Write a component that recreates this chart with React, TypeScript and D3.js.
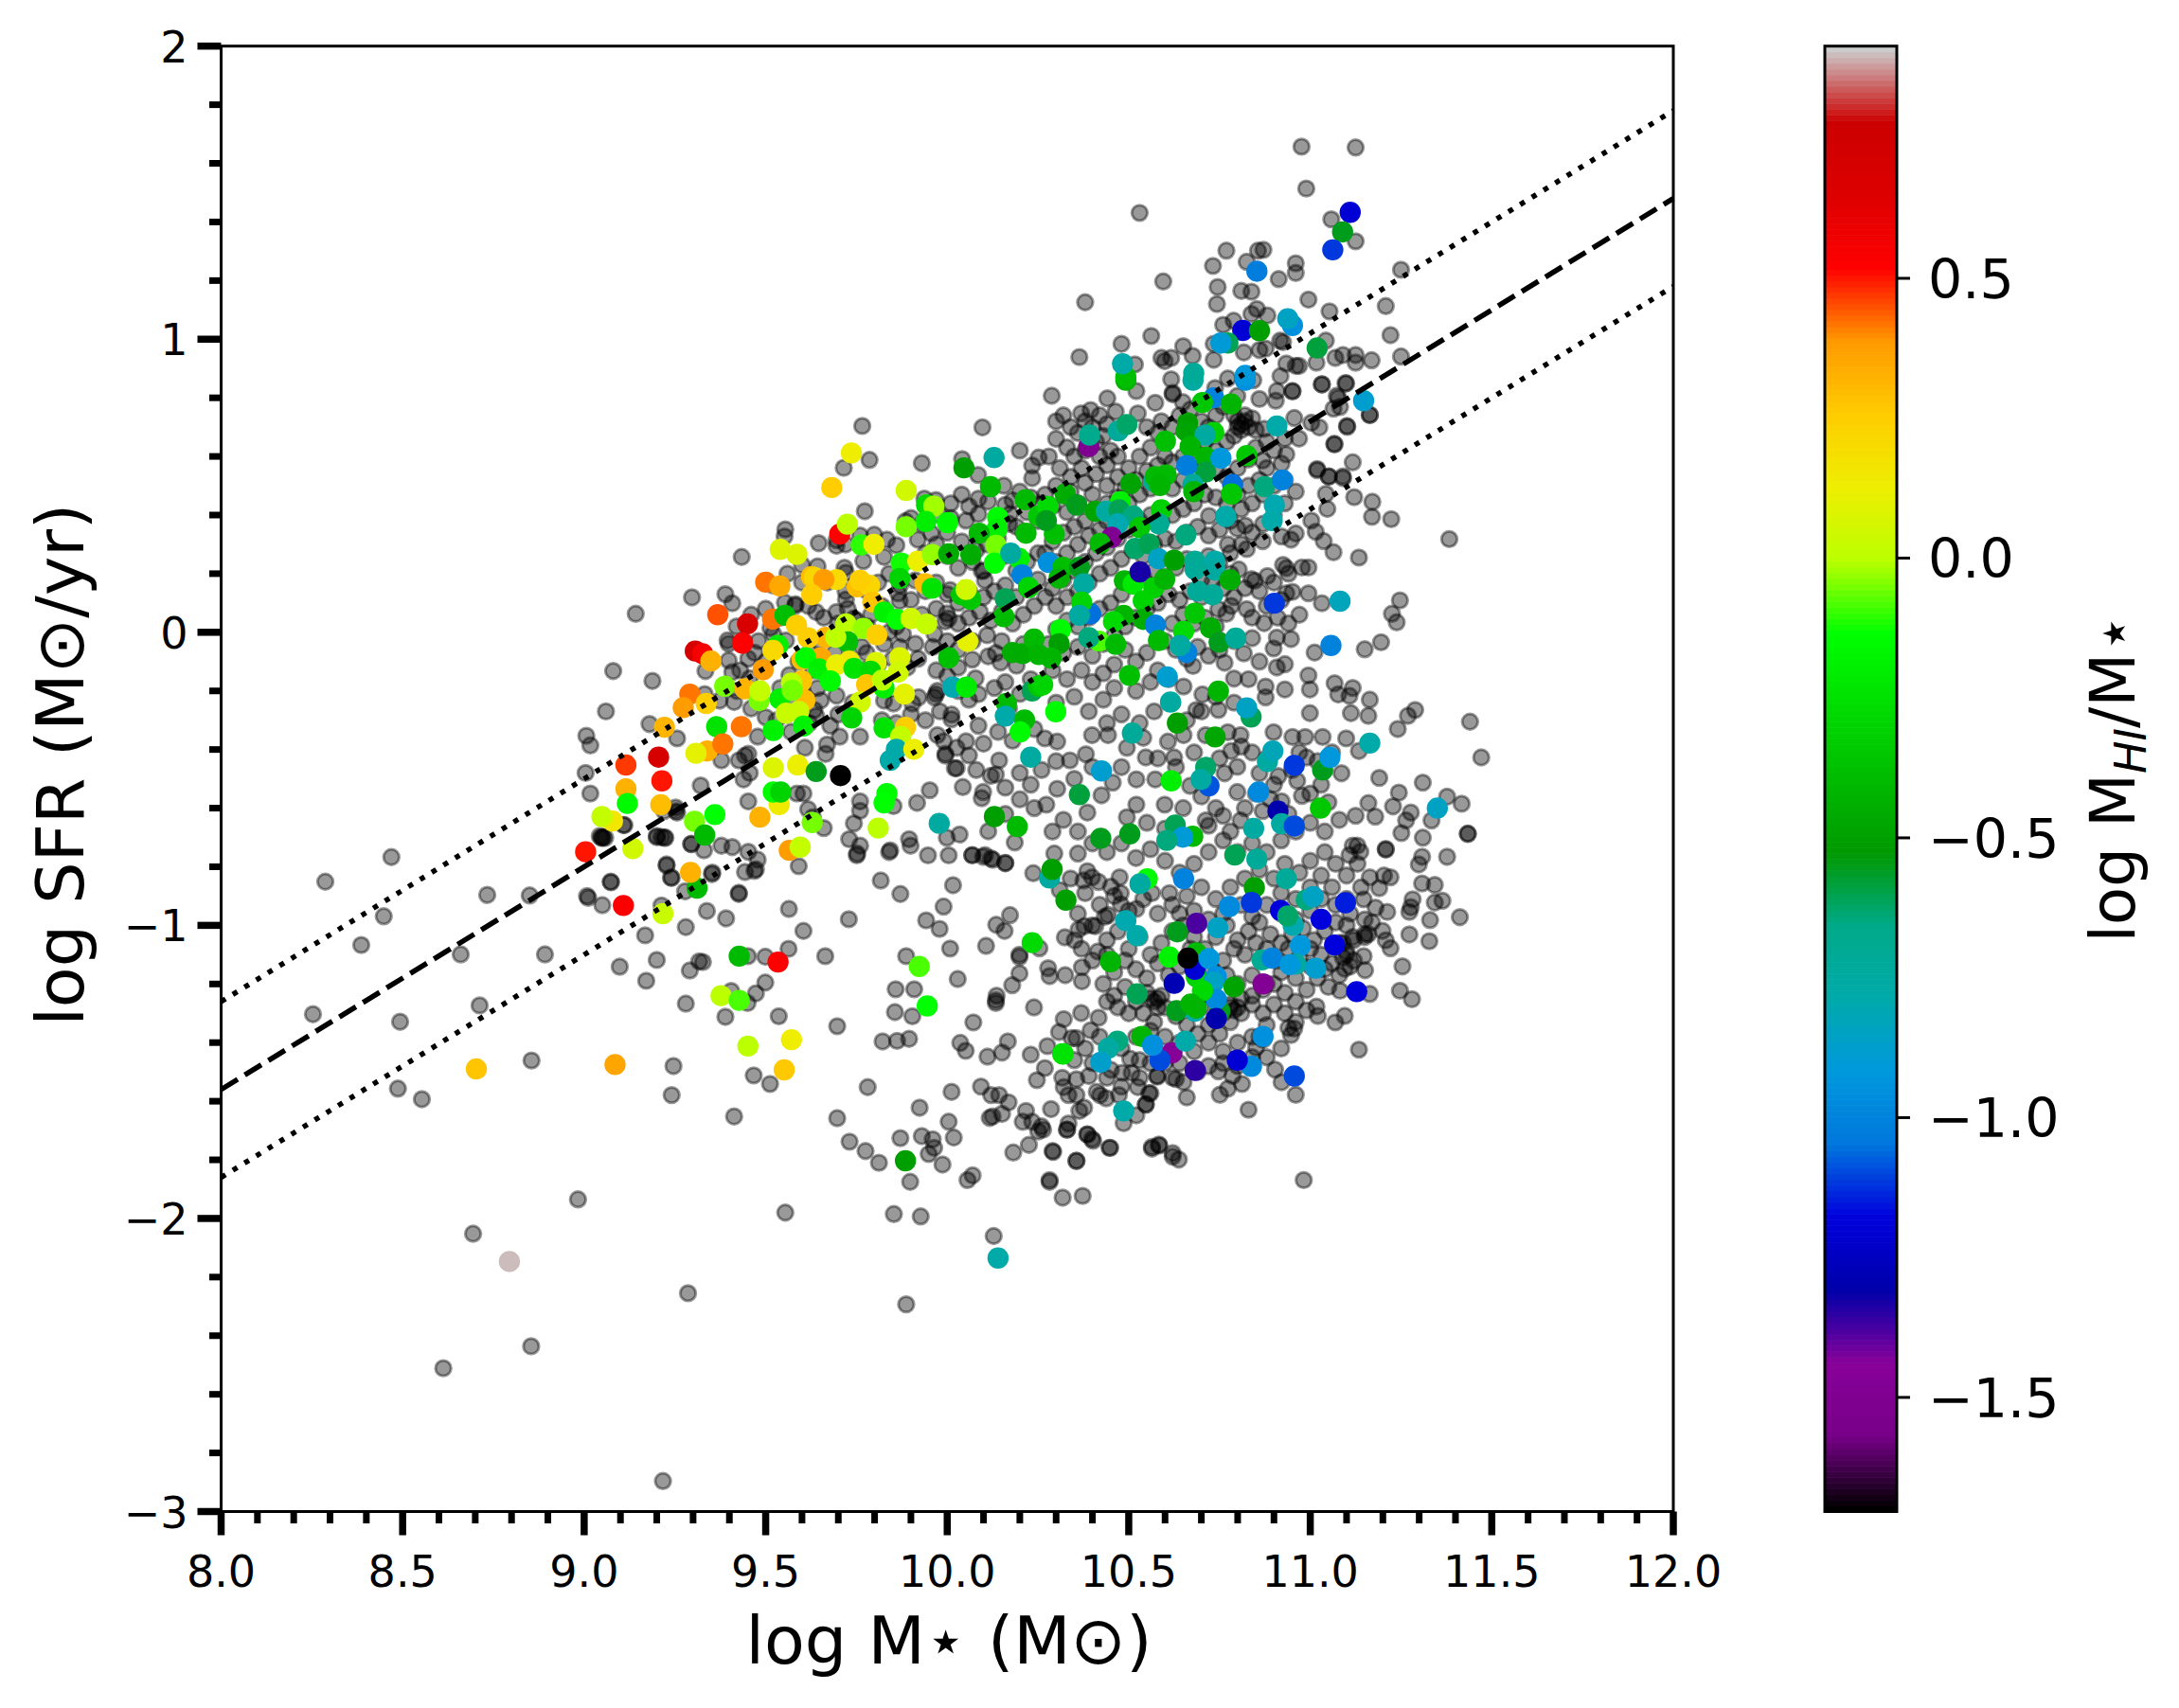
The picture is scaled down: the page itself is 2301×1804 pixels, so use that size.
import React from "react";
import * as d3 from "d3";

// ---------- axis ticks ----------
const xMajor = [8, 8.5, 9, 9.5, 10, 10.5, 11, 11.5, 12];
const xMinor = [8.1,8.2,8.3,8.4,8.6,8.7,8.8,8.9,9.1,9.2,9.3,9.4,9.6,9.7,9.8,9.9,10.1,10.2,10.3,10.4,10.6,10.7,10.8,10.9,11.1,11.2,11.3,11.4,11.6,11.7,11.8,11.9];
const yMajor = [-3, -2, -1, 0, 1, 2];
const yMinor = [-2.8,-2.6,-2.4,-2.2,-1.8,-1.6,-1.4,-1.2,-0.8,-0.6,-0.4,-0.2,0.2,0.4,0.6,0.8,1.2,1.4,1.6,1.8];
const cbTicks = [0.5, 0, -0.5, -1, -1.5];

// ---------- main sequence fit (slope, intercept, scatter) ----------
const fitSlope = 0.76;
const fitIntercept = -7.64;
const fitScatter = 0.3;

// ---------- nipy_spectral stops ----------
const cmapR = [0,.4667,.5333,0,0,0,0,0,0,0,0,0,0,.7333,.9333,1,1,1,.8667,.8,.8];
const cmapG = [0,0,0,0,0,.4667,.6,.6667,.6667,.6,.7333,.8667,1,1,.9333,.8,.6,0,0,0,.8];
const cmapB = [0,.5333,.6,.6667,.8667,.8667,.8667,.6667,.5333,0,0,0,0,0,0,0,0,0,0,0,.8];

// ---------- grey galaxies: flat mass, SFR pairs ----------
const greySparseLeft = [8.469,-.767,8.287,-.851,8.448,-.969,8.386,-1.067,8.733,-.896,8.85,-.898,8.66,-1.099,8.892,-1.099,8.253,-1.303,8.493,-1.329,8.712,-1.273,8.487,-1.557,8.553,-1.593,8.855,-1.461,9.246,-1.48,9.241,-1.579,8.983,-1.935,8.694,-2.052,9.098,-1.141,9.2,-1.118,9.171,-1.189,9.168,-1.034,9.28,-1.006,9.28,-1.267,9.291,-1.154,9.317,-1.123,9.011,-.906,9.05,-.931,9.074,-.853,9.047,-.701,9.058,-.701,9.05,-.7,9.111,-.658,9.2,-.699,9.224,-.701,9.213,-.699,9.227,-.796,9.241,-.838,9.278,-.884,9.213,-.932,9.295,-.723,9.22,-.61,9.253,-.61,9.286,-2.255,9.887,-2.293,8.612,-2.511,8.854,-2.436,9.217,-2.896,9.554,-1.98,10.128,-2.06];
const greyLower = [9.751,-.761,9.84,-.75,9.947,-.761,10.004,-.761,10.069,-.761,10.099,-.766,10.121,-.772,10.16,-.788,10.237,-.822,9.591,-.798,9.473,-.809,9.443,-.818,9.353,-.82,9.426,-.893,9.338,-.951,9.391,-.976,9.564,-.944,9.604,-1.019,9.729,-.979,9.817,-.847,9.871,-.893,10.016,-.863,9.99,-.936,9.942,-.983,9.979,-1.012,10.173,-.965,10.135,-.998,10.158,-1.019,10.008,-1.079,10.107,-1.07,10.254,-1.078,10.199,-1.1,10.199,-1.108,9.451,-1.105,9.499,-1.107,9.563,-1.08,9.664,-1.105,9.327,-1.125,9.499,-1.195,9.473,-1.232,9.405,-1.224,9.45,-1.265,9.389,-1.312,9.536,-1.31,9.697,-1.344,9.887,-1.105,10.029,-1.183,9.858,-1.218,9.909,-1.218,9.856,-1.296,9.904,-1.31,9.822,-1.396,9.862,-1.394,9.895,-1.387,9.467,-1.512,9.512,-1.541,9.413,-1.652,9.697,-1.658,9.781,-1.552,9.731,-1.738,9.775,-1.77,9.812,-1.81,9.871,-1.726,9.93,-1.719,9.96,-1.73,9.964,-1.759,9.949,-1.78,10.018,-1.724,10.004,-1.67,9.924,-1.622,10.012,-1.568,9.987,-1.816,9.898,-1.875,10.07,-1.853,10.056,-1.869,9.853,-1.985,9.927,-1.993,10.072,-1.331,10.036,-1.401,10.051,-1.428,10.111,-1.448,10.151,-1.434,10.167,-1.396,10.23,-1.441,10.276,-1.412,10.239,-1.28,10.136,-1.24,10.134,-1.265,10.134,-1.256,10.179,-1.204,10.199,-1.164,10.278,-1.146,10.282,-1.173,10.325,-1.17,10.371,-1.143,10.371,-1.191,10.415,-1.089,10.324,-1.041,10.351,-1.051,10.362,-1.014,10.378,-1.003,10.408,-1.003,10.386,-.815,10.399,-.836,10.417,-.852,10.375,-.847,10.36,-.755,10.295,-.755,10.475,-.836,10.451,-.868,10.478,-.89,10.478,-.928,10.434,-.971,10.443,-.965,10.521,-.944,10.564,-.89,10.612,-.89,10.269,-1.487,10.247,-1.528,10.093,-1.55,10.121,-1.579,10.143,-1.579,10.169,-1.604,10.117,-1.657,10.125,-1.652,10.151,-1.643,10.217,-1.633,10.208,-1.67,10.234,-1.67,10.26,-1.686,10.251,-1.703,10.286,-1.627,10.225,-1.749,10.182,-1.775,10.292,-1.773,10.356,-1.803,10.282,-1.875,10.318,-1.929,10.373,-1.923,10.33,-1.697,10.334,-1.676,10.386,-1.713,10.402,-1.735,10.449,-1.759,10.564,-1.762,10.584,-1.751,10.621,-1.789,10.317,-1.52,10.321,-1.552,10.334,-1.579,10.356,-1.525,10.356,-1.579,10.377,-1.622,10.364,-1.633,10.39,-1.514,10.412,-1.568,10.421,-1.579,10.438,-1.59,10.473,-1.579,10.525,-1.552,10.547,-1.611,10.556,-1.573,10.578,-1.514,10.621,-1.52,10.451,-1.493,10.482,-1.503,10.508,-1.503,10.53,-1.46,10.504,-1.455,10.308,-1.364,10.321,-1.32,10.343,-1.385,10.356,-1.385,10.369,-1.299,10.417,-1.315,10.395,-1.358];
const greyRight = [11.383,.318,11.223,.386,11.171,.445,11.17,.394,11.134,.255,11.064,.273,11.037,.311,11.015,.343,11.003,.381,11.121,.461,11.047,.421,11.043,.472,11.09,.526,11.117,.58,11.019,.553,11.051,.531,11.164,.741,11.102,.701,11.067,.641,11.077,.8,11.099,.849,11.032,.846,10.951,.822,11.247,.109,11.225,.063,11.238,.034,11.195,-.034,11.15,-.058,11.012,-.069,10.995,-.147,10.999,-.195,11.067,-.174,11.077,-.212,11.108,-.217,11.117,-.19,11.164,-.23,11.16,-.285,11.112,-.276,10.999,-.276,11.289,-.265,11.269,-.285,11.241,-.33,11.44,-.305,11.471,-.427,11.032,.099,10.995,.133,10.951,.138,10.934,.133,10.995,.221,10.977,.221,10.934,.219,10.925,.23,10.882,.192,10.847,.176,10.803,.214,10.838,.181,10.825,.284,10.869,.311,10.921,.327,10.947,.316,10.96,.337,10.773,.3,10.799,.354,10.821,.364,10.721,.397,10.947,-.023,10.908,-.018,10.899,-.055,10.817,-.072,10.873,.031,10.825,.079,10.782,.09,10.747,.079,10.769,.063,10.877,-.185,10.908,-.12,10.93,-.195,10.877,-.222,10.93,-.109,10.899,-.341,10.79,-.158,10.764,-.104,10.677,-.115,10.651,-.185,10.703,-.212,10.951,-.357,10.986,-.357,11.034,-.357,11.099,-.362,11.134,-.405,11.086,-.481,11.19,-.497,11.31,-.513,11.244,-.547,11.228,-.594,11.16,-.583,11.179,-.629,11.125,-.626,11.277,-.615,11.264,-.642,11.334,-.642,11.417,-.585,11.377,-.561,11.434,-.687,11.31,-.701,11.251,-.685,11.208,-.739,11.13,-.728,10.99,-.427,10.912,-.491,10.964,-.507,10.977,-.558,10.86,-.481,10.799,-.545,10.76,-.626,10.712,-.642,10.808,-.642,10.869,-.61,10.921,-.577,10.651,-.351,10.747,-.265,10.686,-.265,10.808,-.351,10.782,-.405,10.773,-.341,10.712,-.351,10.608,-.373,10.547,-.427,10.521,-.502,10.495,-.394,10.443,-.351,10.399,-.351,10.338,-.437,10.382,-.416,10.303,-.373,10.269,-.362,10.303,-.534,10.273,-.588,10.386,-.615,10.456,-.513,10.521,-.588,10.599,-.588,10.495,-.631,10.425,-.556,10.625,-.427,10.573,-.502,10.669,-.524,10.764,-.481,10.799,-.459];
const greyUpper = [10.976,1.657,11.125,1.654,10.989,1.514,11.058,1.409,11.125,1.334,10.53,1.431,10.769,1.302,10.856,1.302,10.871,1.305,10.825,1.264,10.732,1.25,10.96,1.259,10.96,1.226,10.913,1.205,10.595,1.197,10.745,1.178,10.81,1.165,10.838,1.162,10.38,1.126,10.743,1.12,10.995,1.135,11.25,1.237,11.208,1.113,11.053,1.095,10.853,1.103,10.838,1.086,10.882,1.081,10.789,1.063,10.76,1.049,11.221,1.014,10.562,1.011,10.48,.984,10.364,.939,10.65,.976,10.676,.943,10.59,.936,10.599,.925,10.617,.936,10.734,.984,10.734,.93,10.817,.955,10.86,.963,10.877,.968,10.917,.995,10.925,.99,10.934,.917,10.96,.909,10.969,.909,11.017,.92,11.043,.995,11.069,.936,11.09,.946,11.125,.946,11.125,.92,11.169,.928,11.25,.941,10.517,.914,10.521,.823,10.617,.863,10.621,.817,10.621,.812,10.773,.866,10.843,.86,10.918,.874,10.951,.823,10.908,.823,10.905,.79,11.032,.846,11.097,.85,11.073,.807,11.064,.763,11.082,.769,11.164,.742,11.101,.704,11.066,.643,11.003,.715,11.025,.699,10.956,.731,10.86,.796,10.799,.806,10.441,.798,10.288,.807,10.573,.783,10.649,.785,10.464,.753,10.525,.747,10.369,.747,10.395,.758,10.738,.833,11.019,.557,11.051,.532,11.09,.532,10.93,.661,10.934,.607,10.969,.661,10.869,.586,10.873,.694,10.921,.575];
const greyLeftMid = [9.766,.704,10.097,.699,9.786,.588,9.715,.561,9.93,.577,10.085,.537,10.2,.62,10.041,.591,10.234,.569,10.234,.526,10.252,.596,9.773,.413,9.937,.456,9.969,.451,9.554,.351,9.552,.327,9.434,.257,9.646,.304,9.695,.295,9.695,.314,9.799,.333,9.834,.316,9.86,.297,9.826,.257,9.769,.243,9.919,.316,9.885,.379,9.956,.338,10.086,.456,10.113,.446,10.156,.5,10.16,.435,10.173,.403,10.191,.36,10.086,.403,10.052,.381,9.643,.225,9.717,.22,9.721,.203,9.297,.119,9.389,.13,9.408,.099,9.142,.063,9.553,.101,9.582,.096,9.617,.09,9.639,.069,9.721,.112,9.726,.08,9.695,.069,9.743,.047,9.869,.107,9.865,.133,9.912,.177,10.008,.144,10.104,.177,10.095,.209,9.999,.064,10.004,.047,9.995,.037,9.08,-.132,9.188,-.166,9.06,-.27,9.18,-.313,9.006,-.353,9.017,-.386,9.256,-.362,9.332,-.211,9.373,-.233,9.413,-.238,9.395,-.028,9.398,-.039,9.398,-.096,9.452,-.09,9.334,-.132,9.408,-.136,9.43,-.13,9.456,-.157,9.521,-.006,9.556,-.028,9.582,.091,9.513,.015,9.565,-.146,9.643,-.19,9.695,-.216,9.634,-.265,9.639,-.286,9.652,-.232,9.778,-.071,9.765,-.05,9.826,-.039,9.878,-.006,9.912,-.039,9.869,-.05,9.965,-.006,9.969,-.211,9.965,-.222,9.973,-.2,9.921,-.222,9.826,-.233,9.852,-.243,9.904,-.243,10.069,-.093,10.113,-.082,10.134,-.071,10.147,-.103,10.078,-.157,10.191,-.114,10.13,-.19,10.086,-.211,10.012,-.281,10.012,-.297,10.086,-.319,10.052,-.372,10.026,-.394,9.973,-.351,9.995,-.415,10.021,-.464,9.952,-.539,9.917,-.582,10.043,-.528,10.099,-.545,10.095,-.566,10.143,-.437,10.134,-.485,9.991,-.372,9.678,-.319,9.704,-.356,9.76,-.356,9.669,-.383,9.665,-.415,9.608,-.394,9.478,-.356,9.452,-.415,9.426,-.437,9.443,-.421,9.456,-.48,9.439,-.502,9.321,-.523,9.378,-.437,9.017,-.55,9.004,-.48,9.108,-.658,9.252,-.598,9.256,-.615,9.452,-.577,9.604,-.55,9.586,-.55,9.617,-.604,9.63,-.631,9.66,-.668,9.73,-.706,9.743,-.652,9.76,-.577,9.76,-.609,9.76,-.728,9.752,-.755,9.852,-.593,9.843,-.744,9.895,-.706,9.899,-.728,9.999,-.701,10.034,-.69,9.995,-.421,10.026,-.464,10.113,-.679,10.186,-.717,10.069,-.76,10.104,-.76,10.126,-.776,10.16,-.787,9.478,-.776,9.469,-.814,9.408,-.733,9.378,-.728,9.33,-.744,9.295,-.722,9.221,-.701,9.2,-.695,9.052,-.701,9.043,-.695,9.227,-.792,9.239,-.837,9.352,-.825,9.073,-.851,9.008,-.9,9.426,-.889,9.452,-.749];
const greyLowerRight = [11.434,-.688,11.377,-.766,11.412,-.972,11.33,-.982,11.328,-1.054,11.273,-1.031,11.254,-1.14,11.247,-1.223,11.28,-1.252,11.134,-1.424,11.164,-1.234,11.208,-.742,11.117,-.728,11.138,-.749,11.108,-.76,11.308,-.766,11.299,-.792,11.308,-.857,11.343,-.862,11.282,-.911,11.273,-.954,11.343,-.922,11.364,-.916,11.277,-.938,11.212,-.954,11.221,-.836,11.203,-.83,11.164,-.836,11.19,-.873,11.199,-1.019,11.221,-1.078,11.208,-1.051,11.147,-.911,11.117,-1.04,11.147,-1.105,11.151,-1.153,11.095,-1.148,11.082,-1.223,11.095,-1.309,11.069,-1.331,11.021,-1.309,10.947,-1.374,10.956,-1.352,11.017,-1.277,10.903,-1.492,10.921,-1.535,10.96,-1.578,10.83,-1.629,10.812,-1.541,10.773,-1.557,10.751,-1.578,10.66,-1.587,10.63,-1.524,10.651,-1.535,10.747,-1.498,10.579,-1.516,10.56,-1.573,10.547,-1.611,10.521,-1.648,10.486,-1.675,10.447,-1.759,10.399,-1.729,10.386,-1.713,10.356,-1.804,10.29,-1.77,10.564,-1.756,10.583,-1.748,10.621,-1.777,10.638,-1.799,10.33,-1.697,10.264,-1.697,10.282,-1.869,10.982,-1.869,10.786,-1.514,10.851,-1.417];
// hand-read clumps of the crowded regions
const greyCrowdUpper = [10.3,.72,10.32,.74,10.34,.7,10.3,.66,10.33,.63,10.28,.6,10.36,.68,10.38,.72,10.42,.74,10.4,.7,10.44,.71,10.43,.67,10.41,.65,10.38,.62,10.35,.6,10.31,.56,10.34,.53,10.37,.56,10.42,.6,10.45,.62,10.47,.6,10.44,.57,10.41,.54,10.38,.51,10.34,.48,10.3,.5,10.27,.47,10.29,.43,10.33,.41,10.36,.44,10.4,.47,10.44,.5,10.47,.53,10.5,.56,10.53,.6,10.56,.63,10.58,.68,10.55,.7,10.59,.72,10.62,.7,10.64,.74,10.67,.76,10.7,.72,10.72,.7,10.74,.74,10.76,.77,10.79,.74,10.8,.72,10.81,.71,10.82,.72,10.83,.7,10.81,.69,10.8,.7,10.82,.74,10.84,.73,10.85,.69,10.79,.67,10.77,.65,10.74,.62,10.71,.65,10.68,.62,10.65,.6,10.62,.58,10.6,.6,10.58,.57,10.55,.55,10.52,.52,10.49,.49,10.47,.46,10.44,.44,10.41,.41,10.38,.38,10.35,.36,10.32,.34,10.29,.31,10.27,.27,10.3,.24,10.33,.27,10.36,.3,10.39,.33,10.42,.35,10.44,.38,10.47,.41,10.5,.44,10.53,.47,10.56,.49,10.59,.51,10.62,.49,10.65,.52,10.68,.55,10.71,.57,10.74,.56,10.77,.53,10.8,.56,10.83,.59,10.85,.63,10.88,.65,10.9,.62,10.88,.56,10.86,.52,10.83,.5,10.8,.47,10.77,.44,10.74,.46,10.71,.47,10.68,.44,10.65,.42,10.62,.4,10.59,.38,10.56,.4,10.53,.38,10.5,.35,10.47,.32,10.44,.29,10.41,.27,10.38,.24,10.35,.21,10.32,.18,10.29,.15,10.27,.12,10.3,.09,10.33,.12,10.36,.14,10.39,.17,10.42,.2,10.45,.22,10.48,.25,10.51,.28,10.54,.26,10.57,.3,10.6,.32,10.63,.31,10.66,.34,10.69,.36,10.72,.33,10.75,.35,10.78,.38,10.81,.42,10.84,.44,10.87,.47,10.9,.5,10.93,.52,10.96,.48,10.93,.44,10.9,.4,10.87,.37,10.84,.34,10.81,.3,10.78,.27,10.75,.24,10.72,.26,10.69,.23,10.66,.25,10.63,.22,10.6,.19,10.57,.21,10.54,.19,10.51,.16,10.48,.13,10.45,.1,10.42,.08,10.39,.05,10.36,.02,10.33,.04,10.3,.01,10.28,-.04,10.32,-.07,10.36,-.05,10.4,-.08,10.43,-.04,10.46,-.01,10.49,.02,10.52,.05,10.55,.08,10.58,.1,10.61,.13,10.64,.11,10.67,.14,10.7,.12,10.73,.17,10.76,.15,10.79,.12,10.62,.03,10.65,.06,10.68,.03,10.71,.05,10.74,.02,10.6,-.03,10.63,-.06,10.66,-.09,10.69,-.05,10.72,-.08,10.75,-.06,10.79,-.03,10.55,-.07,10.52,-.1,10.49,-.06,10.46,-.11,10.43,-.14,10.4,-.17,10.37,-.13,10.33,-.16,10.29,-.13,10.26,-.18,10.3,-.24,10.35,-.22,10.39,-.27,10.43,-.23,10.46,-.19,10.52,-.2,10.56,-.17,10.58,-.13,10.61,-.16,10.62,-.24,10.57,-.27,10.53,-.31,10.48,-.28,10.44,-.31,10.66,-.3,10.7,-.27,10.74,-.22,10.79,-.24,10.83,-.16,10.86,-.1,10.84,-.02,10.84,.05,10.88,.09,10.91,.05,10.94,.03,10.97,.06,10.92,.11,10.94,.2,10.9,.17,10.86,.14,10.82,.15,10.78,.2,10.74,.22,10.7,.18];
const greyCrowdLeft = [10.26,.44,10.23,.46,10.2,.48,10.18,.45,10.22,.41,10.25,.38,10.21,.34,10.17,.37,10.14,.32,10.11,.3,10.08,.28,10.04,.31,10.0,.34,9.97,.3,9.94,.27,10.0,.26,10.03,.22,10.07,.24,10.1,.21,10.13,.24,10.16,.26,10.19,.21,10.22,.24,10.25,.27,10.25,.18,10.22,.15,10.19,.12,10.16,.16,10.13,.14,10.1,.12,10.06,.14,10.03,.1,10.0,.13,9.97,.17,9.94,.14,9.9,.11,9.87,.16,9.84,.2,9.81,.17,9.78,.14,9.75,.17,9.72,.14,9.82,.09,9.79,.06,9.85,.05,9.93,.06,9.97,.08,10.03,.03,10.06,.05,10.09,.07,10.12,.04,10.15,.07,10.18,.03,10.21,.06,10.24,.09,10.24,-.02,10.21,-.04,10.18,-.07,10.15,-.03,10.11,-.01,10.07,-.03,10.03,-.06,10.0,-.03,9.96,-.05,9.92,-.09,9.89,-.12,9.85,-.09,9.81,-.11,9.77,-.13,9.73,-.09,9.69,-.07,9.65,-.03,9.62,-.07,9.59,-.1,9.63,-.13,9.6,-.2,9.57,-.23,9.54,-.19,9.5,-.1,9.47,-.07,9.44,-.03,9.48,-.03,9.42,-.2,9.46,-.26,9.5,-.29,9.53,-.3,9.57,-.34,9.62,-.31,9.7,-.28,9.74,-.24,9.82,-.3,9.86,-.31,9.9,-.28,9.94,-.3,9.98,-.27,10.03,-.2,10.06,-.23,10.0,-.15,9.97,-.13,10.03,-.12,10.16,-.17,10.2,-.21,10.23,-.16,10.17,-.26,10.21,-.3,10.24,-.33,10.18,-.37,10.14,-.34,10.1,-.38,10.06,-.42,10.08,-.47,10.12,-.49,10.16,-.53,10.2,-.48,10.23,-.52,10.26,-.47,10.2,-.57,10.24,-.6,10.16,-.62,9.42,.02,9.46,.06,9.5,.08,9.54,.05,9.58,.03,9.66,.05,9.7,.03,9.75,.04,9.78,.02,9.84,.0,9.86,.02,9.52,.16,9.56,.2,9.6,.17,9.67,.17,9.72,.3,9.76,.33,9.6,.23,9.9,.39,9.93,.37,9.98,.4,10.01,.44,10.04,.47,10.06,.43,10.01,.39];
const greyCrowdLow = [10.44,-1.05,10.47,-1.02,10.5,-1.08,10.53,-1.04,10.56,-1.1,10.59,-1.06,10.62,-1.02,10.65,-1.0,10.68,-1.04,10.71,-1.08,10.74,-1.04,10.77,-1.0,10.8,-1.05,10.83,-1.02,10.86,-.99,10.89,-1.03,10.92,-1.06,10.95,-1.03,10.98,-1.01,11.01,-1.05,11.04,-1.02,11.07,-.99,11.1,-1.0,11.12,-1.05,11.1,-1.09,11.1,-1.1,11.09,-1.11,11.12,-1.12,11.06,-1.13,11.03,-1.1,11.0,-1.08,10.97,-1.11,10.94,-1.08,10.91,-1.12,10.88,-1.08,10.85,-1.06,10.82,-1.1,10.79,-1.08,10.76,-1.12,10.73,-1.15,10.7,-1.11,10.67,-1.08,10.64,-1.14,10.61,-1.17,10.58,-1.13,10.55,-1.18,10.52,-1.15,10.49,-1.12,10.46,-1.16,10.43,-1.2,10.46,-1.24,10.49,-1.21,10.52,-1.26,10.55,-1.23,10.58,-1.28,10.5,-1.3,10.47,-1.28,10.44,-1.26,10.54,-1.3,10.57,-1.33,10.6,-1.28,10.63,-1.31,10.66,-1.34,10.69,-1.37,10.72,-1.34,10.75,-1.37,10.78,-1.33,10.81,-1.3,10.84,-1.27,10.87,-1.3,10.9,-1.27,10.93,-1.23,10.96,-1.26,10.99,-1.22,11.02,-1.18,11.05,-1.21,11.08,-1.17,11.11,-1.14,11.04,-1.15,11.0,-1.14,10.96,-1.18,10.92,-1.16,10.88,-1.2,10.84,-1.17,10.8,-1.2,10.77,-1.17,10.81,-1.25,10.78,-1.27,10.78,-1.28,10.79,-1.29,10.8,-1.28,10.76,-1.3,10.84,-1.24,10.87,-1.22,10.9,-1.2,10.93,-1.3,10.96,-1.33,10.99,-1.29,10.94,-1.35,10.88,-1.34,10.84,-1.38,10.8,-1.4,10.76,-1.43,10.72,-1.4,10.68,-1.43,10.64,-1.4,10.6,-1.38,10.56,-1.36,10.52,-1.38,10.48,-1.42,10.42,-1.38,10.38,-1.42,10.35,-1.46,10.4,-1.47,10.44,-1.52,10.48,-1.55,10.53,-1.52,10.56,-1.47,10.6,-1.47,10.64,-1.47,10.69,-1.5,10.72,-1.48,10.76,-1.47,10.8,-1.48,10.84,-1.45,10.88,-1.45,10.92,-1.42,10.5,-.95,10.54,-.91,10.58,-.96,10.62,-.93,10.66,-.9,10.7,-.87,10.74,-.91,10.78,-.87,10.82,-.84,10.86,-.81,10.9,-.84,10.93,-.79,10.97,-.82,11.0,-.78,11.04,-.75,11.07,-.79,11.1,-.83,11.13,-.79,11.14,-.87,11.1,-.91,11.06,-.87,11.03,-.83,11.0,-.87,10.96,-.91,10.92,-.89,10.88,-.93,10.84,-.97,10.81,-.93,10.76,-.96,10.72,-.98,10.68,-.95,10.64,-.96,10.92,-.96,10.96,-.98,11.0,-.95,11.03,-.91,11.07,-.93,11.11,-.96,11.15,-.98,11.15,-1.03,11.15,-1.04,11.16,-1.03,11.17,-.99,11.18,-.94,10.46,-.9,10.42,-.93,10.38,-.89,10.34,-.84,10.31,-.88,10.36,-.96,10.4,-1.0,10.44,-1.1,10.4,-1.12,10.37,-1.08,10.6,-.78,10.64,-.82,10.68,-.79,10.72,-.75,10.76,-.71,10.8,-.75,10.84,-.72,10.88,-.75,10.92,-.71,10.96,-.68,11.0,-.65,11.04,-.68,11.08,-.64,10.56,-.74,10.52,-.77,10.48,-.72,10.44,-.75,10.4,-.72,10.36,-.68,10.32,-.64,10.29,-.68,10.55,-.65,10.6,-.67,10.65,-.6,10.7,-.56,10.74,-.6,10.85,-.55,10.89,-.57,10.94,-.62,11.0,-.55,11.05,-.58,11.03,-.52,10.95,-.47,10.88,-.43,10.84,-.41,10.81,-.39,10.75,-.43,10.68,-.41,10.63,-.46,10.58,-.43,10.54,-.36,10.48,-.46,10.4,-.46,10.35,-.5,10.3,-.44,10.68,-.7,10.72,-.66,10.78,-.68,10.82,-.6,10.9,-.52,10.97,-.41,11.02,-.44,11.06,-.41,10.56,-1.25,10.57,-1.26,10.59,-1.24,10.58,-1.25,10.69,-1.27,10.7,-1.28,10.86,-1.38,10.87,-1.39,11.08,-1.06,11.09,-1.06];

// ---------- HI-detected galaxies: flat mass, SFR, log MHI/M* triplets ----------
const hiLeft = [9.736,.612,.13,9.682,.494,.26,9.887,.484,.05,10.046,.561,-.5,10.129,.596,-.75,10.119,.497,-.4,9.943,.435,-.28,9.963,.43,-.02,9.941,.378,-.2,10.001,.374,-.15,9.887,.36,-.05,9.704,.335,.52,9.725,.369,0,9.763,.298,-.1,9.798,.3,.13,9.54,.283,.08,9.586,.266,.08,10.139,.392,-.15,10.137,.352,-.2,10.088,.338,-.4,10.215,.452,-.4,10.217,.338,-.4,10.252,.397,-.35,9.873,.236,-.12,9.919,.243,.12,9.959,.265,-.03,10.004,.268,-.45,10.065,.265,-.45,10.134,.297,-.05,10.13,.236,-.13,10.198,.252,-.2,10.175,.27,-.75,10.206,.196,-1,9.869,.184,-.3,9.939,.166,.3,9.958,.15,-.25,10.039,.128,-.35,10.065,.112,-.35,10.052,.146,.05,10.16,.114,-.6,10.156,.053,-.4,10.224,.153,-.3,9.5,.171,.42,9.539,.158,.35,9.626,.19,.3,9.634,.187,.22,9.695,.18,.2,9.66,.18,.38,9.627,.128,.26,9.752,.155,.3,9.786,.16,.22,9.76,.177,.25,9.795,.103,.28,9.368,.06,.45,9.45,.029,.68,9.436,-.037,.52,9.519,.045,.42,9.553,.058,-.38,9.585,.024,.25,9.721,.029,0,9.769,.013,-.03,9.826,.069,-.18,9.862,.044,-.13,9.9,.047,.05,9.943,.028,.02,9.665,-.017,.32,9.617,-.019,.25,9.726,-.033,-.38,9.693,-.017,0,9.806,-.009,.24,9.306,-.064,.72,9.326,-.073,.55,9.349,-.098,.33,9.534,-.044,-.2,9.52,-.062,.2,9.6,-.093,.3,9.652,-.087,.35,9.61,-.087,-.15,9.647,-.125,-.2,9.73,-.098,.15,9.695,-.111,.12,9.743,-.123,-.25,9.869,-.087,.08,9.804,-.103,.08,9.789,-.133,-.28,10.004,-.087,-.38,10.056,-.031,.1,10.18,-.069,-.45,10.208,-.073,-.45,10.239,-.023,-.4,10.252,-.076,-.42,9.493,-.128,.38,9.387,-.184,-.05,9.443,-.193,.32,9.291,-.211,.42,9.273,-.257,.38,9.336,-.243,.24,9.221,-.324,.32,9.482,-.233,-.05,9.484,-.2,.02,9.539,-.227,-.2,9.599,-.166,.28,9.608,-.232,.3,9.571,-.173,0,9.573,-.198,-.05,9.556,-.276,.03,9.591,-.27,.03,9.678,-.166,-.15,9.778,-.179,.28,9.826,-.19,-.2,9.821,-.163,0,9.865,-.136,.05,9.882,-.211,.1,9.76,-.238,.05,9.737,-.292,-.3,10.015,-.187,-.8,10.053,-.187,-.22,10.234,-.2,-.6,10.163,-.243,-.4,10.252,-.184,-.35,10.16,-.286,-.78,10.213,-.299,-.4,10.201,-.34,-.15,10.23,-.426,-.75,9.365,-.322,-.25,9.433,-.322,.42,9.339,-.405,.33,9.382,-.381,.42,9.308,-.413,.1,9.521,-.335,-.18,9.604,-.32,-.18,9.826,-.326,-.25,9.885,-.324,.25,9.872,-.356,.02,9.86,-.399,-.78,9.908,-.399,.12,9.843,-.437,-.78,9.115,-.453,.47,9.205,-.426,.7,9.214,-.507,.5,9.115,-.534,.33,9.119,-.584,-.15,9.211,-.588,.3,9.078,-.644,.15,9.049,-.629,.02,9.304,-.645,-.05,9.36,-.622,-.13,9.332,-.692,-.4,9.134,-.738,.05,9.004,-.749,.5,9.311,-.873,-.4,9.293,-.819,.33,9.108,-.932,.53,9.217,-.96,.03,9.521,-.462,.08,9.588,-.453,.12,9.639,-.475,-.55,9.706,-.489,-1.7,9.537,-.588,.14,9.521,-.545,-.15,9.541,-.545,-.3,9.484,-.631,.33,9.834,-.55,-.15,9.826,-.582,-.13,9.81,-.668,0,9.628,-.649,-.05,9.565,-.744,.38,9.595,-.733,.02,9.978,-.652,-.75,10.13,-.629,-.5,10.193,-.663,-.4];
const hiLowLeft = [8.703,-1.49,.28,9.085,-1.475,.36,8.794,-2.147,.9,9.427,-1.105,-.4,9.534,-1.125,.52,9.377,-1.24,0,9.427,-1.256,-.08,9.451,-1.412,0,9.571,-1.39,.13,9.551,-1.493,.27,9.923,-1.14,-.08,9.945,-1.275,-.13,9.885,-1.803,-.5,10.14,-2.135,-.78,10.234,-1.059,-.28,10.282,-.838,-.75,10.289,-.809,-.5,10.327,-.914,-.5,10.551,-.841,-.15,10.531,-.858,-.75,10.492,-.984,-.8,10.523,-1.035,-.78,10.319,-1.439,-.25,10.486,-1.633,-.78];
const hiLower = [10.911,-.61,-1.3,11.028,-.6,-.35,11.35,-.6,-.85,10.921,-.653,-.75,10.844,-.669,-.75,10.956,-.661,-1.1,10.423,-.703,-.55,10.503,-.688,-.55,10.628,-.658,-.6,10.676,-.696,-.4,10.649,-.699,-.9,10.605,-.71,-.65,10.792,-.76,-.6,10.853,-.774,-.72,10.934,-.841,-.72,10.651,-.841,-1,10.846,-.871,-.5,10.838,-.922,-1.12,10.777,-.936,-.97,10.989,-.913,-.65,11.008,-.902,-.85,11.097,-.923,-1.15,10.918,-.949,-1.18,10.953,-1,-.8,10.938,-.968,-.62,11.03,-.979,-1.18,11.067,-1.067,-1.18,10.973,-1.069,-.92,10.687,-.993,-1.38,10.745,-1.008,-.85,10.634,-1.022,-.55,10.45,-1.124,-.42,10.686,-1.175,-.3,10.686,-1.094,-.4,10.682,-1.15,-1.2,10.612,-1.108,-.18,10.663,-1.112,-1.7,10.721,-1.113,-.92,10.867,-1.118,-.7,10.895,-1.112,-1,10.96,-1.132,-.75,10.944,-1.134,-.92,11.015,-1.146,-.88,10.741,-1.175,-.95,10.734,-1.194,-.85,10.625,-1.198,-1.28,10.79,-1.21,-.48,10.87,-1.2,-1.47,10.523,-1.234,-.6,10.751,-1.293,-.55,10.741,-1.252,-.97,10.682,-1.293,-.78,10.703,-1.223,-.28,10.632,-1.291,-.55,10.671,-1.268,-.42,10.686,-1.282,-.42,10.741,-1.318,-1.3,11.128,-1.226,-1.18,10.87,-1.379,-.95,10.536,-1.379,-.42,10.469,-1.395,-.65,10.444,-1.419,-.75,10.423,-1.467,-.87,10.318,-1.438,-.25,10.619,-1.435,-1.45,10.586,-1.46,-1.1,10.566,-1.409,-.95,10.656,-1.395,-.78,10.683,-1.495,-1.35,10.838,-1.481,-.97,10.799,-1.46,-1.2,10.956,-1.514,-1.1];
const hiMid = [10.492,.86,-.42,10.677,.86,-.75,10.734,.8,-1,10.703,.784,-.35,10.782,.779,-.42,10.821,.86,-.95,11.147,.79,-.88,10.908,.704,-.78,10.39,.634,-1.5,10.392,.673,-.68,10.471,.687,-.72,10.495,.709,-.62,10.601,.652,-.38,10.662,.714,-.5,10.658,.687,-.48,10.734,.682,-.32,10.71,.673,-.75,10.669,.634,-.42,10.712,.598,-.42,10.712,.547,-.58,10.66,.569,-1.02,10.754,.594,-.92,10.825,.603,-.35,10.569,.515,-.7,10.603,.537,-.4,10.573,.531,-.4,10.586,.501,-.42,10.505,.507,-.48,10.677,.504,-.72,10.679,.48,-.42,10.786,.504,-1.05,10.783,.472,-.35,10.874,.497,-.65,10.923,.52,-1,10.901,.434,-.8,10.895,.381,-.78,10.767,.395,-.78,10.325,.472,-.45,10.477,.445,-.18,10.357,.434,-.55,10.408,.413,-.48,10.277,.429,-.28,10.438,.413,-.75,10.473,.418,-.6,10.512,.397,-.65,10.59,.418,-.32,10.469,.37,-.8,10.583,.37,-.7,10.453,.324,-1.5,10.53,.357,-.35,10.421,.303,-.4,10.295,.335,-.38,10.273,.381,-.55,10.657,.332,-.65,10.518,.286,-.62,10.556,.302,-.6,10.582,.251,-.85,10.625,.246,-.5,10.682,.243,-.7,10.737,.243,-.78,10.738,.212,-.75,10.683,.214,-.72,10.779,.179,-.45,10.279,.238,-.95,10.319,.222,-.38,10.364,.222,-.55,10.308,.185,-.42,10.376,.165,-.75,10.488,.176,-.42,10.512,.165,-.22,10.531,.206,-1.33,10.569,.152,-.32,10.599,.181,-.42,10.54,.108,-.3,10.69,.141,-.72,10.731,.128,-.72,10.901,.099,-1.12,11.082,.106,-.83,10.395,.063,-1.05,10.37,.103,-.3,10.364,.058,-.75,10.682,.065,-.35,10.486,.058,-.42,10.458,.036,-.28,10.54,.044,-.45,10.573,.025,-1,10.651,.004,-.28,10.725,.015,-.45,10.312,.009,-.15,10.418,-.03,-.08,10.39,-.018,-.65,10.464,-.041,-.4,10.582,-.028,-.4,10.308,-.039,-.5,10.286,-.088,-.42,10.66,-.069,-1,10.641,-.045,-.75,10.749,-.034,-.55,10.795,-.02,-.72,11.057,-.045,-1,10.502,-.147,-.38,10.606,-.152,-.88,10.263,-.179,-.3,10.747,-.201,-.42,10.615,-.238,-.75,10.299,-.271,-.15,10.837,-.289,-.6,10.825,-.258,-.85,10.634,-.31,-.5,10.738,-.357,-.47,10.51,-.344,-.72,11.164,-.378,-.78,10.882,-.441,-.75,10.897,-.405,-.82,10.956,-.454,-1.12,11.034,-.47,-.55,11.054,-.427,-.92,10.425,-.473,-.88,10.712,-.461,-.62,10.721,-.524,-1.08,10.699,-.502,-.75,10.617,-.507,-.2,10.364,-.554,-.58,10.858,-.545,-.97];
const hiTop = [11.11,1.433,-1.2,11.089,1.366,-.55,11.062,1.305,-1.12,10.853,1.232,-1.02,10.814,1.03,-1.2,10.86,1.029,-.5,10.951,1.047,-.95,10.938,1.07,-.85,10.773,.987,-.6,10.754,.987,-.9,11.019,.97,-.58,10.492,.871,-.38,10.483,.916,-.78,10.679,.884,-.72,10.821,.877,-.92];

const greyAll = [greySparseLeft, greyLower, greyRight, greyUpper, greyLeftMid, greyLowerRight, greyCrowdUpper, greyCrowdLeft, greyCrowdLow].flat();
const hiAll = [hiLeft, hiLowLeft, hiLower, hiMid, hiTop].flat();

const W = 2301, H = 1804;
const L = 233.5, R = 1767, T = 48.7, B = 1596.5;
const CL = 1927, CR = 2003;
const FONT = "'DejaVu Sans', sans-serif";

const x = d3.scaleLinear().domain([8, 12]).range([L, R]);
const y = d3.scaleLinear().domain([-3, 2]).range([B, T]);
const cDomain: [number, number] = [-1.704, 0.915];
const cy = d3.scaleLinear().domain(cDomain).range([B, T]);
const stops = d3.range(21).map((i) => i / 20);
const rS = d3.scaleLinear<number>().domain(stops).range(cmapR);
const gS = d3.scaleLinear<number>().domain(stops).range(cmapG);
const bS = d3.scaleLinear<number>().domain(stops).range(cmapB);
const t01 = d3.scaleLinear().domain(cDomain).range([0, 1]).clamp(true);
const cmap = (v: number) => {
  const t = Math.floor(t01(v) * 255.999) / 255;
  return `rgb(${Math.round(rS(t) * 255)},${Math.round(gS(t) * 255)},${Math.round(bS(t) * 255)})`;
};
const minus = (s: string) => s.replace("-", "\u2212");
const line = d3.line<number>().x((d) => x(d)).y((d) => y(d * fitSlope + fitIntercept));
const fitLine = (off: number) =>
  d3.line<number>().x((d) => x(d)).y((d) => y(d * fitSlope + fitIntercept + off))([8, 12]) as string;

export default function App() {
  const greys = d3.range(0, greyAll.length, 2).map((i) => [greyAll[i], greyAll[i + 1]]);
  const his = d3.range(0, hiAll.length, 3).map((i) => [hiAll[i], hiAll[i + 1], hiAll[i + 2]]);
  const bands = d3.range(256);
  const cbH = (B - T) / 256;
  return (
    <svg width={W} height={H} viewBox={`0 0 ${W} ${H}`} style={{ position: "absolute", left: 0, top: 0, background: "#fff" }} fontFamily={FONT}>
      {greys.map((d, i) => (
        <circle key={i} cx={x(d[0])} cy={y(d[1])} r={8.2} fill="#000" fillOpacity={0.4} stroke="#000" strokeOpacity={0.4} strokeWidth={3} />
      ))}
      {his.map((d, i) => (
        <circle key={i} cx={x(d[0])} cy={y(d[1])} r={11.2} fill={cmap(d[2])} />
      ))}
      <path d={line([8, 12]) as string} fill="none" stroke="#000" strokeWidth={5.5} strokeDasharray="20.5 8.8" />
      <path d={fitLine(fitScatter)} fill="none" stroke="#000" strokeWidth={5.5} strokeDasharray="5.5 9" />
      <path d={fitLine(-fitScatter)} fill="none" stroke="#000" strokeWidth={5.5} strokeDasharray="5.5 9" />
      <rect x={L} y={T} width={R - L} height={B - T} fill="none" stroke="#000" strokeWidth={3} />
      {xMajor.map((v) => <line key={v} x1={x(v)} x2={x(v)} y1={B} y2={B + 25} stroke="#000" strokeWidth={7.5} />)}
      {xMinor.map((v) => <line key={v} x1={x(v)} x2={x(v)} y1={B} y2={B + 12.5} stroke="#000" strokeWidth={7} />)}
      {yMajor.map((v) => <line key={v} x1={L} x2={L - 25} y1={y(v)} y2={y(v)} stroke="#000" strokeWidth={7.5} />)}
      {yMinor.map((v) => <line key={v} x1={L} x2={L - 12.5} y1={y(v)} y2={y(v)} stroke="#000" strokeWidth={7} />)}
      {xMajor.map((v) => <text key={v} x={x(v)} y={B + 79} fontSize={46} textAnchor="middle">{v.toFixed(1)}</text>)}
      {yMajor.map((v) => <text key={v} x={L - 35} y={y(v) + 17} fontSize={46} textAnchor="end">{minus(String(v))}</text>)}
      <text x={1002} y={1757} fontSize={70} textAnchor="middle">log M⋆ (M⊙)</text>
      <text transform={`translate(88,${(T + B) / 2 - 15}) rotate(-90)`} fontSize={70} textAnchor="middle">log SFR (M⊙/yr)</text>
      {bands.map((k) => {
        const t = (k + 0.5) / 256;
        const v = cDomain[0] + t * (cDomain[1] - cDomain[0]);
        return <rect key={k} x={CL} width={CR - CL} y={B - (k + 1) * cbH} height={cbH + 0.6} fill={cmap(v)} />;
      })}
      <rect x={CL} y={T} width={CR - CL} height={B - T} fill="none" stroke="#000" strokeWidth={3} />
      {cbTicks.map((v) => <line key={v} x1={CR} x2={CR + 14} y1={cy(v)} y2={cy(v)} stroke="#000" strokeWidth={3} />)}
      {cbTicks.map((v) => <text key={v} x={CR + 33} y={cy(v) + 21} fontSize={57}>{minus(v.toFixed(1))}</text>)}
      <text transform={`translate(2254,822) rotate(-90)`} fontSize={66} textAnchor="middle">
        log M<tspan dy={12} fontSize={46} fontStyle="italic">HI</tspan><tspan dy={-12}>/M⋆</tspan>
      </text>
    </svg>
  );
}
